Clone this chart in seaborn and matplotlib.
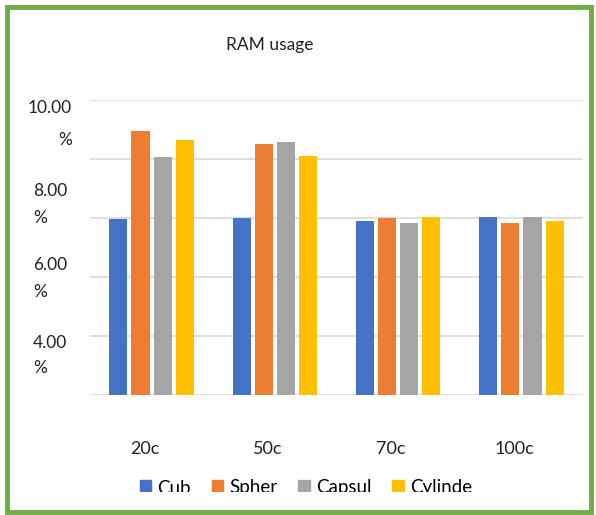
import numpy as np
import pandas as pd
import seaborn as sns
import matplotlib.pyplot as plt
import matplotlib.transforms as mtransforms
from matplotlib.patches import Rectangle

# data (values in %)
temps = ['20c', '50c', '70c', '100c']
shapes = ['Cub', 'Spher', 'Capsul', 'Cylinde']
cub = [5.98, 6.01, 5.91, 6.05]
spher = [8.95, 8.51, 6.01, 5.84]
capsul = [8.07, 8.58, 5.84, 6.05]
cylinde = [8.65, 8.11, 6.05, 5.91]
colors = ['#4472C4', '#ED7D31', '#A5A5A5', '#FFC000']

# wrapped y tick labels, Excel style
ylab_text = ['10.00', '%', '8.00', '%', '6.00', '%', '4.00', '%']
ylab_y = [9.73, 8.65, 6.93, 6.01, 4.39, 3.48, 1.76, 0.91]

df = pd.DataFrame({
    'temp': np.repeat(temps, len(shapes)),
    'shape': shapes * len(temps),
    'value': np.ravel(np.column_stack([cub, spher, capsul, cylinde])),
})

plt.rcParams['font.family'] = ['Lato', 'DejaVu Sans']

fig = plt.figure(figsize=(5.96, 5.15), dpi=100)
ax = fig.add_axes([90 / 596, 1 - 395 / 515, 493 / 596, 295 / 515])

sns.barplot(data=df, x='temp', y='value', hue='shape', palette=colors,
            width=0.72, gap=0.18, ax=ax, legend=False, saturation=1)

ax.set_ylim(0, 10)
ax.set_yticks(np.arange(0, 11, 2))
ax.set_yticklabels([])
ax.tick_params(axis='y', length=0)
ax.tick_params(axis='x', length=0, labelsize=13, pad=33, colors='#222222')
ax.grid(axis='y', color='#D9D9D9', linewidth=1.2)
ax.set_axisbelow(True)
for s in ax.spines.values():
    s.set_visible(False)
ax.set_xlabel('')
ax.set_ylabel('')

# excel draws the category labels slightly left of the group centre
shift = mtransforms.ScaledTranslation(-7 / 100, 0, fig.dpi_scale_trans)
for lab in ax.get_xticklabels():
    lab.set_transform(lab.get_transform() + shift)

tr = ax.get_yaxis_transform()
for i, (t, y) in enumerate(zip(ylab_text, ylab_y)):
    if i < 2:
        ax.text(-0.0365, y, t, transform=tr, ha='right', va='center',
                fontsize=12.5, color='#222222')
    else:
        ax.text(-0.1156, y, t, transform=tr, ha='left', va='center',
                fontsize=12.5, color='#222222')

fig.text(270 / 596, 1 - 45 / 515, 'RAM usage', ha='center', va='center',
         fontsize=12.5, color='#222222')

handles = [Rectangle((0, 0), 1, 1, color=c) for c in colors]
fig.legend(handles, shapes, loc='center', bbox_to_anchor=(306 / 596, 1 - 488 / 515),
           ncol=4, frameon=False, fontsize=13.5, handlelength=0.6, handleheight=0.75,
           handletextpad=0.35, columnspacing=1.1)

# the legend text is cut off at the bottom of the chart area
fig.add_artist(Rectangle((9 / 596, 6 / 515), 578 / 596, 17 / 515,
                         transform=fig.transFigure, facecolor='white',
                         edgecolor='none', zorder=10))

# green frame around the chart
fig.add_artist(Rectangle((7 / 596, 3 / 515), 584 / 596, 505 / 515,
                         transform=fig.transFigure, fill=False,
                         edgecolor='#70AD47', linewidth=3.5, zorder=11))

fig.savefig('out.png', dpi=100)
